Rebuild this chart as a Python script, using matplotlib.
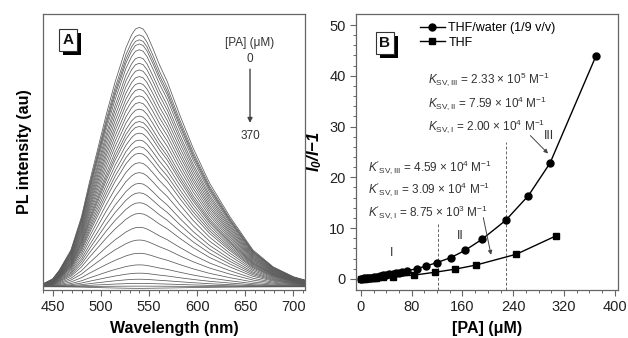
import numpy as np
import matplotlib
matplotlib.use('Agg')
from matplotlib import pyplot as plt
from matplotlib import patheffects as pe

plt.rcParams['font.family'] = ['Liberation Sans', 'DejaVu Sans']
plt.rcParams['mathtext.fontset'] = 'custom'
plt.rcParams['mathtext.rm'] = 'Liberation Sans'
plt.rcParams['mathtext.it'] = 'Liberation Sans:italic'
plt.rcParams['mathtext.bf'] = 'Liberation Sans:bold'
plt.rcParams['mathtext.bfit'] = 'Liberation Sans:italic:bold'

# panel A: outline of the top (0 uM) spectrum
wl_top = [440, 450, 457, 469, 480, 488, 497, 505.6, 515, 521, 526, 532, 536, 540,
          544, 548, 554, 561, 569, 582, 596, 613, 634, 658, 679, 700, 712]
pl_top = [0.022, 0.040, 0.072, 0.145, 0.266, 0.387, 0.513, 0.634, 0.755, 0.82, 0.876,
          0.924, 0.945, 0.951, 0.945, 0.924, 0.876, 0.815, 0.755, 0.634, 0.513, 0.387,
          0.266, 0.145, 0.084, 0.048, 0.036]
# peak heights of every spectrum, top to bottom
peaks = [0.951, 0.924, 0.906, 0.891, 0.870, 0.843, 0.821, 0.797, 0.773, 0.749, 0.727,
         0.703, 0.679, 0.655, 0.630, 0.610, 0.592, 0.568, 0.543, 0.519, 0.495, 0.461,
         0.425, 0.386, 0.352, 0.316, 0.277, 0.227, 0.181, 0.133, 0.091, 0.061, 0.039,
         0.024, 0.014, 0.006]
baseline = 0.012

# panel B: Stern-Volmer data
pa_mix = [0, 5, 10, 15, 20, 25, 30, 35, 40, 45, 50, 55, 60, 65, 73, 88, 102, 120,
          142, 164, 191, 228, 264, 298, 370]
sv_mix = [0, 0.08, 0.17, 0.26, 0.36, 0.46, 0.56, 0.66, 0.77, 0.88, 0.99, 1.1, 1.22,
          1.35, 1.6, 2.0, 2.5, 3.2, 4.2, 5.6, 7.8, 11.5, 16.4, 22.8, 43.8]
pa_thf = [0, 3, 6, 9, 12, 15, 18, 21, 24, 27, 35, 51, 83, 117, 148, 181, 245, 308]
sv_thf = [0, 0.03, 0.06, 0.09, 0.12, 0.15, 0.18, 0.21, 0.24, 0.28, 0.33, 0.45, 0.72,
          1.3, 1.9, 2.7, 4.85, 8.5]
k_mix = [r'$K_{\rm SV,III}$ = 2.33 $\times$ 10$^5$ M$^{-1}$',
         r'$K_{\rm SV,II}$ = 7.59 $\times$ 10$^4$ M$^{-1}$',
         r'$K_{\rm SV,I}$ = 2.00 $\times$ 10$^4$ M$^{-1}$']
k_thf = [r"$K'_{\rm SV,III}$ = 4.59 $\times$ 10$^4$ M$^{-1}$",
         r"$K'_{\rm SV,II}$ = 3.09 $\times$ 10$^4$ M$^{-1}$",
         r"$K'_{\rm SV,I}$ = 8.75 $\times$ 10$^3$ M$^{-1}$"]

fig = plt.figure(figsize=(6.28, 3.38), dpi=100)
ax1 = fig.add_axes([0.0685, 0.142, 0.417, 0.817])
ax2 = fig.add_axes([0.567, 0.142, 0.417, 0.817])

spine_c = '#666666'
txt_c = '#222222'


def label_box(ax, letter, x, y):
    t = ax.text(x, y, letter, transform=ax.transAxes, fontsize=11, fontweight='bold',
                ha='center', va='center', color='#111111',
                bbox=dict(boxstyle='square,pad=0.25', fc='white', ec='#333333', lw=0.8))
    t.get_bbox_patch().set_path_effects([
        pe.SimplePatchShadow(offset=(3, -3), shadow_rgbFace='black', alpha=1),
        pe.Normal()])


# ---- panel A
wl = np.array(wl_top)
top = np.array(pl_top)
for h in peaks:
    y = baseline + (top - baseline) * (h - baseline) / (peaks[0] - baseline)
    ax1.plot(wl, y, color='#5a5a5a', lw=0.55)
ax1.set_xlim(440, 712)
ax1.set_ylim(0, 1)
ax1.set_yticks([])
ax1.set_xticks([450, 500, 550, 600, 650, 700])
ax1.set_xticks(np.arange(440, 712, 10), minor=True)
ax1.set_xlabel('Wavelength (nm)', fontsize=11.5, fontweight='bold', labelpad=5)
ax1.set_ylabel('PL intensity (au)', fontsize=11.5, fontweight='bold', labelpad=8)
ax1.text(655, 0.895, '[PA] (\u03bcM)', fontsize=8.5, ha='center', va='center', color='#333333')
ax1.text(655, 0.835, '0', fontsize=8.5, ha='center', va='center', color='#333333')
ax1.text(655, 0.556, '370', fontsize=8.5, ha='center', va='center', color='#333333')
ax1.annotate('', xy=(655, 0.595), xytext=(655, 0.81),
             arrowprops=dict(arrowstyle='-|>', color='#444444', lw=1.0,
                             mutation_scale=7))
label_box(ax1, 'A', 0.095, 0.905)

# ---- panel B
ax2.axvline(121, ymin=0, ymax=(11.1 + 2.2) / 54.4, color='#666666', lw=0.7, ls=(0, (3, 2)))
ax2.axvline(228.5, ymin=0, ymax=(27 + 2.2) / 54.4, color='#666666', lw=0.7, ls=(0, (3, 2)))
ax2.plot(pa_mix, sv_mix, '-o', color='black', lw=1.0, ms=5, label='THF/water (1/9 v/v)')
ax2.plot(pa_thf, sv_thf, '-s', color='black', lw=1.0, ms=4.5, label='THF')
ax2.set_xlim(-7.5, 405)
ax2.set_ylim(-2.2, 52.2)
ax2.set_xticks([0, 80, 160, 240, 320, 400])
ax2.set_xticks(np.arange(0, 401, 20), minor=True)
ax2.set_yticks([0, 10, 20, 30, 40, 50])
ax2.set_yticks(np.arange(0, 52, 2), minor=True)
ax2.set_xlabel('[PA] (\u03bcM)', fontsize=11.5, fontweight='bold', labelpad=5)
ax2.set_ylabel(r'$\mathbfit{I}_{\mathbfit{0}}\mathbfit{/I}$' + '\u22121',
               fontsize=12, fontweight='bold', fontstyle='italic', labelpad=4)
ax2.legend(loc='upper left', bbox_to_anchor=(0.2, 1.01), frameon=False, fontsize=9,
           handlelength=2.0, handletextpad=0.3, labelspacing=0.2)
for i, s in enumerate(k_mix):
    ax2.text(106, 39.3 - 4.6 * i, s, fontsize=8.5, color='#333333', va='center')
for i, s in enumerate(k_thf):
    ax2.text(11, 22.1 - 4.5 * i, s, fontsize=8.5, color='#333333', va='center')
ax2.annotate('', xy=(298, 24.3), xytext=(264, 28.6),
             arrowprops=dict(arrowstyle='-|>', color='#444444', lw=0.7, mutation_scale=6))
ax2.annotate('', xy=(206, 4.2), xytext=(192, 12.6),
             arrowprops=dict(arrowstyle='-|>', color='#444444', lw=0.7, mutation_scale=6))
ax2.text(49, 5.0, 'I', fontsize=9, color='#333333', ha='center', va='center')
ax2.text(157, 8.5, 'II', fontsize=9, color='#333333', ha='center', va='center')
ax2.text(296, 28.2, 'III', fontsize=9, color='#333333', ha='center', va='center')
label_box(ax2, 'B', 0.11, 0.895)

for ax in (ax1, ax2):
    for sp in ax.spines.values():
        sp.set_color(spine_c)
        sp.set_linewidth(0.9)
    ax.tick_params(which='major', direction='out', length=4, width=0.8, colors=spine_c,
                   labelsize=10.5, labelcolor=txt_c)
    ax.tick_params(which='minor', direction='out', length=2.5, width=0.7, colors=spine_c)

fig.savefig('out.png', dpi=100)
